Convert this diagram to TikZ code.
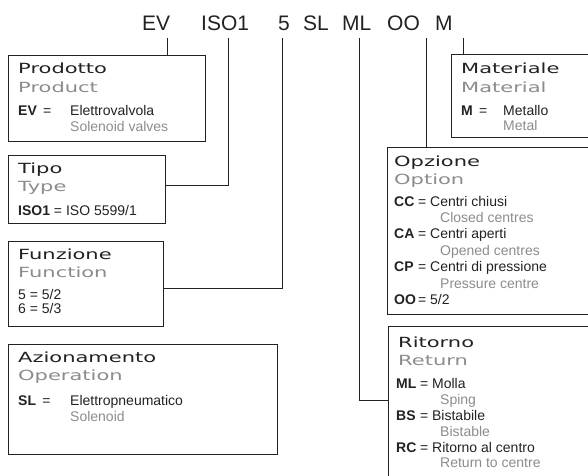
\documentclass[tikz,border=0pt]{standalone}
\usepackage{fontspec}
\setmainfont{Liberation Sans}
\newfontfamily\ttlfont[FakeStretch=1.5]{DejaVu Sans}
\usepackage{tikz}
\usetikzlibrary{positioning}
\definecolor{ink}{HTML}{222222}
\definecolor{engray}{HTML}{8C8C8C}
\tikzset{
  box/.style={draw=ink, line width=1.1pt, anchor=north west, inner sep=0pt},
  conn/.style={draw=ink, line width=1pt},
  codetxt/.style={font=\fontsize{21}{24}\selectfont, text=ink, anchor=base west, inner sep=0pt},
  ttl/.style={font=\ttlfont\fontsize{14}{16}\selectfont, text=ink, anchor=base west, inner sep=0pt},
  sub/.style={ttl, text=engray},
  val/.style={font=\fontsize{14}{16}\selectfont, text=ink, anchor=base west, inner sep=0pt},
  eng/.style={val, text=engray}
}
\newcommand{\kv}[2]{\makebox[20pt][l]{\textbf{#1}} = #2}

\begin{document}
\begin{tikzpicture}[x=1pt, y=-1pt]
  \useasboundingbox (0,0) rectangle (588,475);
  \clip (0,0) rectangle (588,475);
  % code
  \node[codetxt] (cEV) at (142,30) {EV};
  \node[codetxt] (cISO) at (201,30) {ISO1};
  \node[codetxt] (cFun) at (278,30) {5};
  \node[codetxt] (cSL) at (303,30) {SL};
  \node[codetxt] (cML) at (342,30) {ML};
  \node[codetxt] (cOO) at (387,30) {OO};
  \node[codetxt] (cM) at (435,30) {M};
  \coordinate (tEV) at (167,38);
  \coordinate (tISO) at (228,38);
  \coordinate (tFun) at (282,38);
  \coordinate (tML) at (359,38);
  \coordinate (tOO) at (426,38);
  \coordinate (tM) at (463,38);
  % boxes
  \node[box, minimum width=197pt, minimum height=86pt] (prod) at (8,55) {};
  \node[box, minimum width=157pt, minimum height=68pt] (tipo) at (8,155) {};
  \node[box, minimum width=155pt, minimum height=85pt] (fun) at (8,241) {};
  \node[box, minimum width=269pt, minimum height=110pt] (azi) at (8,344) {};
  \node[box, minimum width=200pt, minimum height=83pt] (mat) at (451,54) {};
  \node[box, minimum width=263pt, minimum height=167pt] (opz) at (387,147) {};
  \node[box, minimum width=262pt, minimum height=194pt] (rit) at (388,326) {};
  % connectors
  \draw[conn] (tEV) -- (tEV |- prod.north);
  \draw[conn] (tISO) |- ([yshift=4pt]tipo.east);
  \draw[conn] (tFun) |- ([yshift=-4pt]fun.east);
  \draw[conn] (tML) |- ([yshift=-74pt]rit.north west);
  \draw[conn] (tOO) -- (tOO |- opz.north);
  \draw[conn] (tM) -- (tM |- mat.north);
  % Prodotto
  \node[ttl] (prodT) at (18,73) {Prodotto};
  \node[sub] (prodS) at (18,92) {Product};
  \node[val] (prodK) at (18,115) {\textbf{EV} \,=};
  \node[val] (prodV) at (70,115) {Elettrovalvola};
  \node[eng] (prodE) at (70,131) {Solenoid valves};
  % Tipo
  \node[ttl] (tipoT) at (18,173) {Tipo};
  \node[sub] (tipoS) at (18,191) {Type};
  \node[val] (tipoK) at (18,215) {\textbf{ISO1} = ISO 5599/1};
  % Funzione
  \node[ttl] (funT) at (18,259) {Funzione};
  \node[sub] (funS) at (18,277) {Function};
  \node[val] (funA) at (18,299) {5 = 5/2};
  \node[val] (funB) at (18,313) {6 = 5/3};
  % Azionamento
  \node[ttl] (aziT) at (18,362) {Azionamento};
  \node[sub] (aziS) at (18,380) {Operation};
  \node[val] (aziK) at (18,405) {\textbf{SL} \,=};
  \node[val] (aziV) at (70,405) {Elettropneumatico};
  \node[eng] (aziE) at (70,421) {Solenoid};
  % Materiale
  \node[ttl] (matT) at (461,73) {Materiale};
  \node[sub] (matS) at (461,92) {Material};
  \node[val] (matK) at (461,115) {\textbf{M} \,=};
  \node[val] (matV) at (503,115) {Metallo};
  \node[eng] (matE) at (503,130) {Metal};
  % Opzione
  \node[ttl] (opzT) at (394,166) {Opzione};
  \node[sub] (opzS) at (394,184) {Option};
  \node[val] (opzA) at (394,206) {\kv{CC}{Centri chiusi}};
  \node[eng] (opzAe) at (440,222) {Closed centres};
  \node[val] (opzB) at (394,238) {\kv{CA}{Centri aperti}};
  \node[eng] (opzBe) at (440,255) {Opened centres};
  \node[val] (opzC) at (394,271) {\kv{CP}{Centri di pressione}};
  \node[eng] (opzCe) at (440,288) {Pressure centre};
  \node[val] (opzD) at (394,304) {\kv{OO}{5/2}};
  % Ritorno
  \node[ttl] (ritT) at (398,347) {Ritorno};
  \node[sub] (ritS) at (398,365) {Return};
  \node[val] (ritA) at (396,388) {\kv{ML}{Molla}};
  \node[eng] (ritAe) at (440,404) {Sping};
  \node[val] (ritB) at (396,420) {\kv{BS}{Bistabile}};
  \node[eng] (ritBe) at (440,436) {Bistable};
  \node[val] (ritC) at (396,452) {\kv{RC}{Ritorno al centro}};
  \node[eng] (ritCe) at (440,467) {Return to centre};
\end{tikzpicture}
\end{document}
